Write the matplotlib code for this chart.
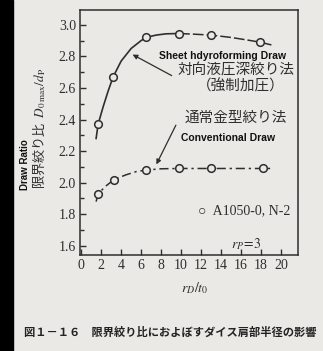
import matplotlib
matplotlib.use("Agg")
import matplotlib.pyplot as plt
from matplotlib.patches import Rectangle

# data
hydro_x = [1.7, 3.2, 6.5, 9.8, 13.0, 17.9]
hydro_y = [2.37, 2.67, 2.92, 2.945, 2.935, 2.89]
hydro_curve_x = [1.5, 1.7, 2.2, 2.7, 3.2, 4.0, 5.0, 6.0, 6.5, 7.5, 8.5, 9.8]
hydro_curve_y = [2.28, 2.37, 2.48, 2.58, 2.67, 2.77, 2.85, 2.90, 2.92, 2.935, 2.943, 2.945]
hydro_tail_x = [9.8, 11.5, 13.0, 15.0, 16.5, 17.9, 19.2]
hydro_tail_y = [2.945, 2.94, 2.935, 2.92, 2.905, 2.89, 2.87]

conv_x = [1.7, 3.3, 6.5, 9.8, 13.0, 18.2]
conv_y = [1.93, 2.02, 2.08, 2.09, 2.09, 2.09]
conv_curve_x = [1.5, 1.7, 2.5, 3.3, 4.5, 5.5, 6.5, 8.0, 9.8, 13.0, 18.2, 19.2]
conv_curve_y = [1.88, 1.93, 1.98, 2.02, 2.05, 2.07, 2.08, 2.088, 2.09, 2.09, 2.09, 2.09]

xticks = [0, 2, 4, 6, 8, 10, 12, 14, 16, 18, 20]
yticks = [1.6, 1.8, 2.0, 2.2, 2.4, 2.6, 2.8, 3.0]

bg = "#ebe9e5"
ink = "#2e2e2e"
cjk = ["Noto Sans CJK JP", "DejaVu Sans"]
serif = ["Liberation Serif", "DejaVu Serif"]
plt.rcParams["mathtext.fontset"] = "stix"

fig = plt.figure(figsize=(3.23, 3.51), dpi=100, facecolor=bg)
fig.patches.append(Rectangle((0, 0), 0.04, 1, transform=fig.transFigure,
                             color="black", zorder=0))
ax = fig.add_axes([0.248, 0.274, 0.675, 0.698], facecolor=bg)

ax.plot(hydro_curve_x, hydro_curve_y, color=ink, lw=1.2)
ax.plot(hydro_tail_x, hydro_tail_y, color=ink, lw=1.1, dashes=(7, 2))
ax.plot(hydro_x, hydro_y, "o", ms=5.5, mfc=bg, mec=ink, mew=1.1)

ax.plot(conv_curve_x, conv_curve_y, color=ink, lw=1.1, dashes=(6, 2.5, 1.5, 2.5))
ax.plot(conv_x, conv_y, "o", ms=5.5, mfc=bg, mec=ink, mew=1.1)

ax.set_xlim(-0.1, 21.7)
ax.set_ylim(1.543, 3.095)
ax.set_xticks(xticks)
ax.set_yticks(yticks)
ax.set_yticks([1.7, 1.9, 2.1, 2.3, 2.5, 2.7, 2.9], minor=True)
ax.set_xticklabels([str(v) for v in xticks], fontfamily=serif, fontsize=10, color=ink)
ax.set_yticklabels(["%.1f" % v for v in yticks], fontfamily=serif, fontsize=10, color=ink)
ax.tick_params(direction="in", length=4, width=1, color=ink, pad=3)
ax.tick_params(which="minor", direction="in", length=3, width=1, color=ink)
for s in ax.spines.values():
    s.set_color(ink)
    s.set_linewidth(1.1)

ax.text(14.1, 2.80, "Sheet hdyroforming Draw", ha="center", va="center",
        fontsize=7.5, fontweight="bold", family=["Liberation Sans", "DejaVu Sans"], color="#111")
ax.text(15.5, 2.71, "対向液圧深絞り法", ha="center", va="center",
        fontsize=10.5, family=cjk, color=ink)
ax.text(16.0, 2.61, "（強制加圧）", ha="center", va="center",
        fontsize=10.5, family=cjk, color=ink)
ax.text(15.5, 2.41, "通常金型絞り法", ha="center", va="center",
        fontsize=10.5, family=cjk, color=ink)
ax.text(14.7, 2.28, "Conventional Draw", ha="center", va="center",
        fontsize=7.5, fontweight="bold", family=["Liberation Sans", "DejaVu Sans"], color="#111")
ax.text(16.3, 1.82, "○  A1050-0, N-2", ha="center", va="center",
        fontsize=10, family=serif, color=ink)
ax.text(16.5, 1.61, r"$r_P\!=\!3$", ha="center", va="center", fontsize=10, color=ink)

ax.annotate("", xy=(4.9, 2.82), xytext=(9.3, 2.67),
            arrowprops=dict(arrowstyle="-|>", color=ink, lw=0.9, mutation_scale=7))
ax.annotate("", xy=(7.4, 2.10), xytext=(9.6, 2.38),
            arrowprops=dict(arrowstyle="-|>", color=ink, lw=0.9, mutation_scale=7))

fig.text(0.604, 0.179, r"$r_D/t_0$", ha="center", va="center", fontsize=10, color=ink)
fig.text(0.078, 0.53, "Draw Ratio", rotation=90, ha="center", va="center",
         fontsize=7, fontweight="bold", family=["Liberation Sans", "DejaVu Sans"], color="#111")
fig.text(0.122, 0.635, r"限界絞り比  $D_{0\,\mathrm{max}}/d_{\mathrm{P}}$", rotation=90,
         ha="center", va="center", fontsize=9.5, family=cjk, color=ink)
fig.text(0.528, 0.054, "図１－１６　限界絞り比におよぼすダイス肩部半径の影響",
         ha="center", va="center", fontsize=8.1, fontweight="bold", family=cjk, color="#222")

fig.savefig("out.png", dpi=100, facecolor=bg)
